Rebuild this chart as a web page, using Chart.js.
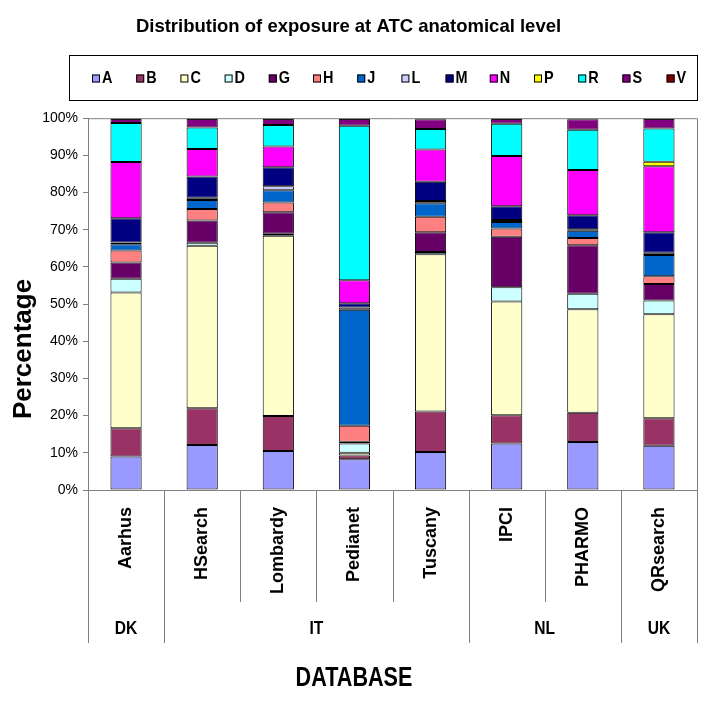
<!DOCTYPE html>
<html>
<head>
<meta charset="utf-8">
<script src="https://cdn.jsdelivr.net/npm/chart.js@4.4.1/dist/chart.umd.min.js"></script>
<style>
  html, body { margin: 0; padding: 0; background: #fff; }
  #wrap { width: 708px; height: 708px; }
</style>
</head>
<body>
<div id="wrap"><canvas id="myChart" width="708" height="708"></canvas></div>
<script>
// databases (x categories) and the country each group belongs to
const databases = ["Aarhus", "HSearch", "Lombardy", "Pedianet", "Tuscany", "IPCI", "PHARMO", "QRsearch"];
const countries = ["DK", "IT", "NL", "UK"];
const countrySize = [1, 4, 2, 1];

// ATC anatomical groups (series)
const atcGroups = ["A", "B", "C", "D", "G", "H", "J", "L", "M", "N", "P", "R", "S", "V"];
const atcColors = ["#9999FF", "#993366", "#FFFFCC", "#CCFFFF", "#660066", "#FF8080", "#0066CC",
                   "#CCCCFF", "#000080", "#FF00FF", "#FFFF00", "#00FFFF", "#800080", "#800000"];

// % of exposure, one value per database
const valA = [9.0, 12.1, 10.5, 8.3, 10.2, 12.5, 12.9, 11.9];
const valB = [7.6, 9.9, 9.4, 1.0, 10.9, 7.6, 7.9, 7.4];
const valC = [36.5, 43.7, 48.5, 0.7, 42.3, 30.6, 27.8, 28.0];
const valD = [3.7, 0.8, 0.5, 2.5, 0.6, 3.8, 4.2, 3.7];
const valG = [4.4, 6.0, 5.8, 0.5, 5.3, 13.6, 13.0, 4.4];
const valH = [3.2, 3.1, 2.6, 4.3, 4.2, 2.2, 2.0, 2.1];
const valJ = [1.7, 2.4, 3.3, 31.2, 3.6, 1.8, 1.9, 5.7];
const valL = [0.5, 0.6, 1.1, 0.6, 0.6, 0.5, 0.4, 0.6];
const valM = [6.5, 5.7, 5.1, 1.1, 5.2, 3.7, 3.8, 5.5];
const valN = [15.1, 7.4, 5.6, 6.2, 8.7, 13.5, 12.2, 17.8];
const valP = [0, 0, 0, 0, 0, 0, 0, 1.2];
const valR = [10.5, 5.8, 5.8, 41.6, 5.5, 8.7, 10.8, 8.9];
const valS = [1.1, 2.3, 1.6, 1.8, 2.6, 1.3, 2.8, 2.6];
const valV = [0.2, 0.2, 0.2, 0.2, 0.3, 0.2, 0.3, 0.2];

// y ticks
const yTicks = [0, 10, 20, 30, 40, 50, 60, 70, 80, 90, 100];

const allValues = [valA, valB, valC, valD, valG, valH, valJ, valL, valM, valN, valP, valR, valS, valV];

const arial = "'Liberation Sans', Arial, sans-serif";

const datasets = atcGroups.map((g, i) => ({
    label: g,
    data: allValues[i],
    backgroundColor: atcColors[i],
    borderColor: "#000000",
    borderWidth: 1,
    borderSkipped: false,
    barPercentage: 0.41,
    categoryPercentage: 1.0,
}));

// no narrow font installed: squeeze the normal one a bit
function narrowText(ctx, text, x, y, size, squeeze) {
    ctx.save();
    ctx.translate(x, y);
    ctx.scale(squeeze, 1);
    ctx.font = "bold " + size + "px " + arial;
    ctx.fillText(text, 0, 0);
    ctx.restore();
}

// legend inside a framed box, plus the frame round the plot
const frameLegend = {
    id: "frameLegend",
    afterDraw(chart) {
        const ctx = chart.ctx;
        const area = chart.chartArea;
        ctx.save();
        // plot frame top/right
        ctx.strokeStyle = "#808080";
        ctx.lineWidth = 1;
        ctx.beginPath();
        ctx.moveTo(area.left, area.top + 0.5);
        ctx.lineTo(area.right + 0.5, area.top + 0.5);
        ctx.lineTo(area.right + 0.5, area.bottom);
        ctx.stroke();

        // legend box
        const boxL = 69, boxR = area.right, boxT = 55, boxB = 100;
        ctx.strokeStyle = "#000000";
        ctx.strokeRect(boxL + 0.5, boxT + 0.5, boxR - boxL, boxB - boxT);
        const step = 44.2;
        const cy = (boxT + boxB) / 2 + 1;
        ctx.textBaseline = "middle";
        ctx.textAlign = "left";
        chart.data.datasets.forEach((ds, i) => {
            const x = 92 + i * step;
            ctx.fillStyle = ds.backgroundColor;
            ctx.fillRect(x, cy - 4, 8, 8);
            ctx.strokeStyle = "#000000";
            ctx.strokeRect(x + 0.5, cy - 3.5, 7, 7);
            ctx.fillStyle = "#000000";
            narrowText(ctx, ds.label, x + 10, cy, 17, 0.85);
        });

        // y axis title
        ctx.save();
        ctx.translate(24, 349);
        ctx.rotate(-Math.PI / 2);
        ctx.textAlign = "center";
        ctx.fillStyle = "#000000";
        ctx.font = "bold 26px " + arial;
        ctx.fillText("Percentage", 0, 0);
        ctx.restore();
        ctx.restore();
    }
};

// two-level x axis: separators, country row and axis title
const groupAxis = {
    id: "groupAxis",
    afterDraw(chart) {
        const ctx = chart.ctx;
        const xs = chart.scales.x;
        const step = (xs.right - xs.left) / databases.length;
        const edges = [0];
        countrySize.forEach(s => edges.push(edges[edges.length - 1] + s));
        ctx.save();
        ctx.strokeStyle = "#808080";
        ctx.lineWidth = 1;
        for (let i = 0; i <= databases.length; i++) {
            const x = Math.round(xs.left + i * step) + 0.5;
            const long = edges.includes(i);
            ctx.beginPath();
            ctx.moveTo(x, xs.top);
            ctx.lineTo(x, xs.top + (long ? 153 : 112));
            ctx.stroke();
        }
        ctx.fillStyle = "#000000";
        ctx.textAlign = "center";
        ctx.textBaseline = "middle";
        countries.forEach((c, k) => {
            const cx = xs.left + (edges[k] + edges[k + 1]) / 2 * step;
            narrowText(ctx, c, cx, xs.top + 139, 19, 0.82);
        });
        narrowText(ctx, "DATABASE", chart.width / 2, 679, 27, 0.8);
        ctx.restore();
    }
};

const ctx = document.getElementById("myChart").getContext("2d");
const myChart = new Chart(ctx, {
    type: "bar",
    data: {
        labels: databases,
        datasets: datasets,
    },
    options: {
        responsive: false,
        animation: false,
        layout: { padding: { left: 0, right: 11, top: 0, bottom: 0 } },
        plugins: {
            legend: { display: false },
            tooltip: { enabled: false },
            title: {
                display: true,
                text: "Distribution of exposure at ATC anatomical level",
                color: "#000000",
                font: { family: arial, size: 18.5, weight: "bold" },
                padding: { top: 16, bottom: 80 },
            },
        },
        scales: {
            x: {
                stacked: true,
                grid: { display: false, drawTicks: false },
                border: { display: true, color: "#808080" },
                ticks: {
                    color: "#000000",
                    font: { family: arial, size: 18, weight: "bold" },
                    minRotation: 90,
                    maxRotation: 90,
                    padding: 17,
                    autoSkip: false,
                },
                afterFit(scale) { scale.height = 218; },
            },
            y: {
                stacked: true,
                min: 0,
                max: 100,
                afterBuildTicks(scale) { scale.ticks = yTicks.map(v => ({ value: v })); },
                grid: { drawOnChartArea: false, drawTicks: true, tickLength: 5, color: "#808080" },
                border: { display: true, color: "#808080" },
                ticks: {
                    color: "#000000",
                    font: { family: arial, size: 14 },
                    padding: 5,
                    callback: v => v + "%",
                },
                afterFit(scale) { scale.width = 88; },
            },
        },
    },
    plugins: [frameLegend, groupAxis],
});
</script>
</body>
</html>
